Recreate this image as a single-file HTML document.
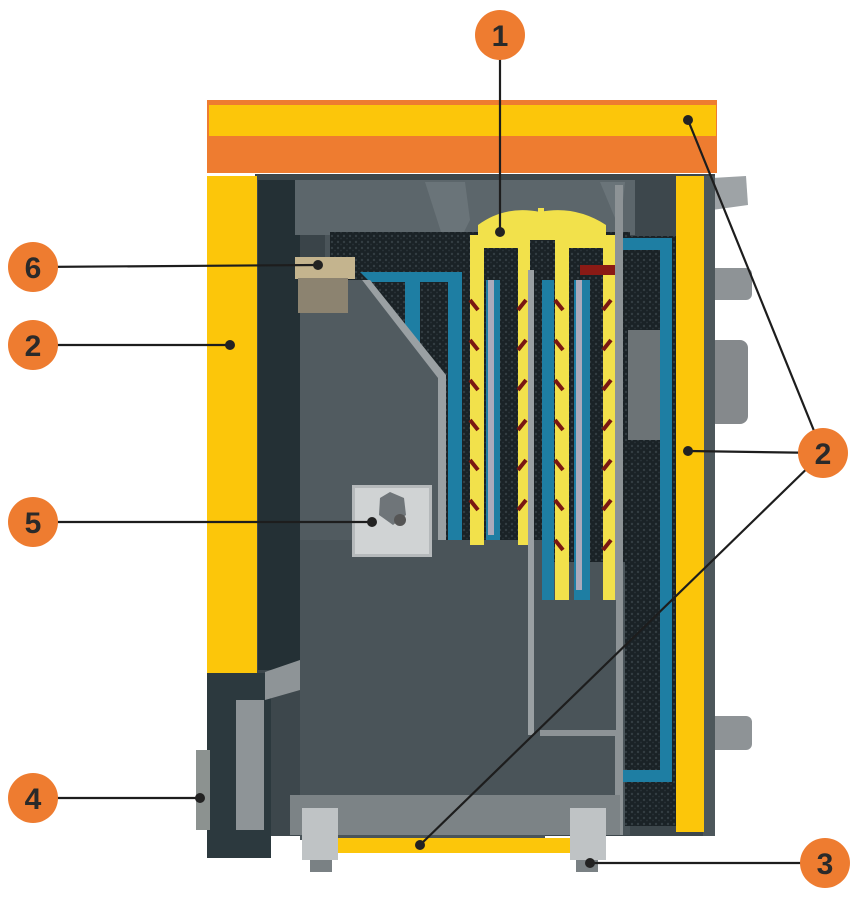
<!DOCTYPE html>
<html><head><style>html,body{margin:0;padding:0;background:#fff;}svg{display:block}</style></head>
<body>
<svg width="864" height="900" viewBox="0 0 864 900" xmlns="http://www.w3.org/2000/svg" font-family="Liberation Sans, sans-serif">
<defs>
<pattern id="dots" width="6" height="6" patternUnits="userSpaceOnUse"><rect width="6" height="6" fill="#1a2226"/><circle cx="2" cy="2" r="1.2" fill="#333d42"/><circle cx="5" cy="4.5" r="0.9" fill="#2a3338"/></pattern>
</defs>
<!-- right pipes -->
<rect x="708" y="268" width="44" height="32" rx="6" fill="#8e9396"/>
<rect x="708" y="340" width="40" height="84" rx="8" fill="#85898c"/>
<rect x="708" y="716" width="44" height="34" rx="6" fill="#8e9396"/>
<path d="M712 178 L746 176 L748 205 L712 210 Z" fill="#9ea3a6"/>
<!-- body -->
<rect x="255" y="174" width="460" height="662" fill="#3d474c"/>
<rect x="703" y="176" width="12" height="660" fill="#4d575b"/>
<!-- interior gray -->
<rect x="300" y="180" width="330" height="655" fill="#4a5459"/>
<rect x="258" y="180" width="45" height="490" fill="#243035"/>
<rect x="300" y="230" width="25" height="440" fill="#3a4449"/>
<rect x="295" y="180" width="340" height="55" fill="#5c666b"/>
<!-- top baffles -->
<path d="M425 182 L465 182 L470 220 L450 260 Z" fill="#6a7479"/>
<path d="M600 182 L625 182 L620 230 Z" fill="#6a7479"/>
<!-- dotted dark area -->
<rect x="330" y="232" width="300" height="330" fill="url(#dots)"/>
<rect x="625" y="236" width="52" height="590" fill="url(#dots)"/>
<!-- left blue box -->
<path d="M360 272 L462 272 L462 542 L448 542 L448 282 L370 282 Z" fill="#1e7ea3"/>
<rect x="405" y="280" width="15" height="100" fill="#1e7ea3"/>
<!-- hopper panel -->
<path d="M300 280 L362 280 L438 375 L438 540 L330 540 L330 670 L300 670 Z" fill="#515b60"/>
<path d="M362 280 L370 280 L446 375 L446 542 L438 542 L438 378 Z" fill="#9aa0a3"/>
<rect x="300" y="540" width="245" height="300" fill="#4a5459"/>
<!-- item 6 box -->
<rect x="295" y="257" width="60" height="22" fill="#c4b48e"/>
<rect x="298" y="278" width="50" height="35" fill="#8c8370"/>
<!-- item 5 -->
<rect x="352" y="485" width="80" height="72" fill="#b5b9bb"/>
<rect x="355" y="488" width="74" height="66" fill="#d0d3d4"/>
<polygon points="390,492 404,498 406,515 393,525 379,515 380,498" fill="#6f7579"/>
<circle cx="400" cy="520" r="6" fill="#555"/>
<!-- yellow fins -->
<path d="M470 235 L530 235 L530 545 L518 545 L518 248 L484 248 L484 545 L470 545 Z" fill="#f2e14b"/>
<path d="M478 225 Q505 205 540 212 Q575 205 606 225 L606 240 L478 240 Z" fill="#f2e14b"/>
<rect x="538" y="208" width="6" height="28" fill="#f2e14b"/>
<path d="M555 235 L615 235 L615 600 L603 600 L603 248 L569 248 L569 600 L555 600 Z" fill="#f2e14b"/>
<rect x="580" y="265" width="36" height="10" fill="#8a1a15"/>
<!-- inner blue strips -->
<rect x="486" y="280" width="14" height="260" fill="#1e7ea3"/><rect x="488" y="280" width="6" height="255" fill="#aab"/>
<rect x="542" y="280" width="12" height="450" fill="#1e7ea3"/>
<rect x="574" y="280" width="16" height="320" fill="#1e7ea3"/><rect x="576" y="280" width="6" height="310" fill="#aab"/>
<!-- red fin marks -->
<g stroke="#7a1712" stroke-width="4">
<path d="M470 300 l8 10 M470 340 l8 10 M470 380 l8 10 M470 420 l8 10 M470 460 l8 10 M470 500 l8 10 M518 310 l8 -10 M518 350 l8 -10 M518 390 l8 -10 M518 430 l8 -10 M518 470 l8 -10 M518 510 l8 -10"/>
<path d="M555 300 l8 10 M555 340 l8 10 M555 380 l8 10 M555 420 l8 10 M555 460 l8 10 M555 500 l8 10 M555 540 l8 10 M603 310 l8 -10 M603 350 l8 -10 M603 390 l8 -10 M603 430 l8 -10 M603 470 l8 -10 M603 510 l8 -10 M603 550 l8 -10"/>
</g>
<!-- center column walls -->
<rect x="528" y="270" width="6" height="465" fill="#9aa0a3"/>
<rect x="615" y="185" width="8" height="650" fill="#8d9396"/>
<rect x="540" y="728" width="76" height="8" fill="#8d9396"/>
<rect x="540" y="600" width="76" height="130" fill="#4a5459"/>
<!-- right blue box -->
<path d="M623 238 L672 238 L672 782 L623 782 L623 770 L660 770 L660 250 L623 250 Z" fill="#1e7ea3"/>
<rect x="628" y="330" width="32" height="110" fill="#6c7376"/>
<!-- right yellow -->
<rect x="676" y="176" width="28" height="656" fill="#fcc60a"/>
<!-- left yellow -->
<rect x="207" y="176" width="50" height="497" fill="#fcc60a"/>
<!-- top lid -->
<rect x="207" y="100" width="510" height="73" fill="#ee7c30"/>
<rect x="209" y="105" width="507" height="31" fill="#fcc60a"/>
<!-- left door -->
<rect x="207" y="673" width="64" height="185" fill="#2c393e"/>
<rect x="196" y="750" width="14" height="80" fill="#8c9290"/>
<rect x="236" y="700" width="28" height="130" fill="#8e9497"/>
<path d="M265 672 L300 660 L300 690 L265 700 Z" fill="#8e9497"/>
<!-- bottom -->
<rect x="290" y="795" width="330" height="40" fill="#7c8386"/>
<rect x="338" y="838" width="232" height="15" fill="#fcc60a"/>
<rect x="302" y="808" width="36" height="52" fill="#bfc3c5"/>
<rect x="570" y="808" width="36" height="52" fill="#bfc3c5"/>
<rect x="310" y="860" width="22" height="12" fill="#7a8184"/>
<rect x="576" y="860" width="22" height="12" fill="#7a8184"/>
<!-- leader lines -->
<g stroke="#1d1d1d" stroke-width="2.2" fill="none">
<line x1="500" y1="35" x2="500" y2="232"/>
<line x1="33" y1="267" x2="318" y2="265"/>
<line x1="33" y1="345" x2="230" y2="345"/>
<line x1="33" y1="522" x2="372" y2="522"/>
<line x1="33" y1="798" x2="200" y2="798"/>
<line x1="825" y1="863" x2="590" y2="863"/>
<line x1="823" y1="453" x2="688" y2="120"/>
<line x1="823" y1="453" x2="688" y2="451"/>
<line x1="823" y1="453" x2="420" y2="845"/>
</g>
<g fill="#222">
<circle cx="500" cy="232" r="5"/><circle cx="318" cy="265" r="5"/><circle cx="230" cy="345" r="5"/>
<circle cx="372" cy="522" r="5"/><circle cx="200" cy="798" r="5"/><circle cx="590" cy="863" r="5"/>
<circle cx="688" cy="120" r="5"/><circle cx="688" cy="451" r="5"/><circle cx="420" cy="845" r="5"/>
</g>
<g fill="#ee7c30">
<circle cx="500" cy="35" r="25"/><circle cx="33" cy="267" r="25"/><circle cx="33" cy="345" r="25"/>
<circle cx="33" cy="522" r="25"/><circle cx="33" cy="798" r="25"/><circle cx="825" cy="863" r="25"/>
<circle cx="823" cy="453" r="25"/>
</g>
<g fill="#2a2a2a" font-size="30" font-weight="bold" text-anchor="middle">
<text x="500" y="46">1</text><text x="33" y="278">6</text><text x="33" y="356">2</text>
<text x="33" y="533">5</text><text x="33" y="809">4</text><text x="825" y="874">3</text>
<text x="823" y="464">2</text>
</g>
</svg>
</body></html>
